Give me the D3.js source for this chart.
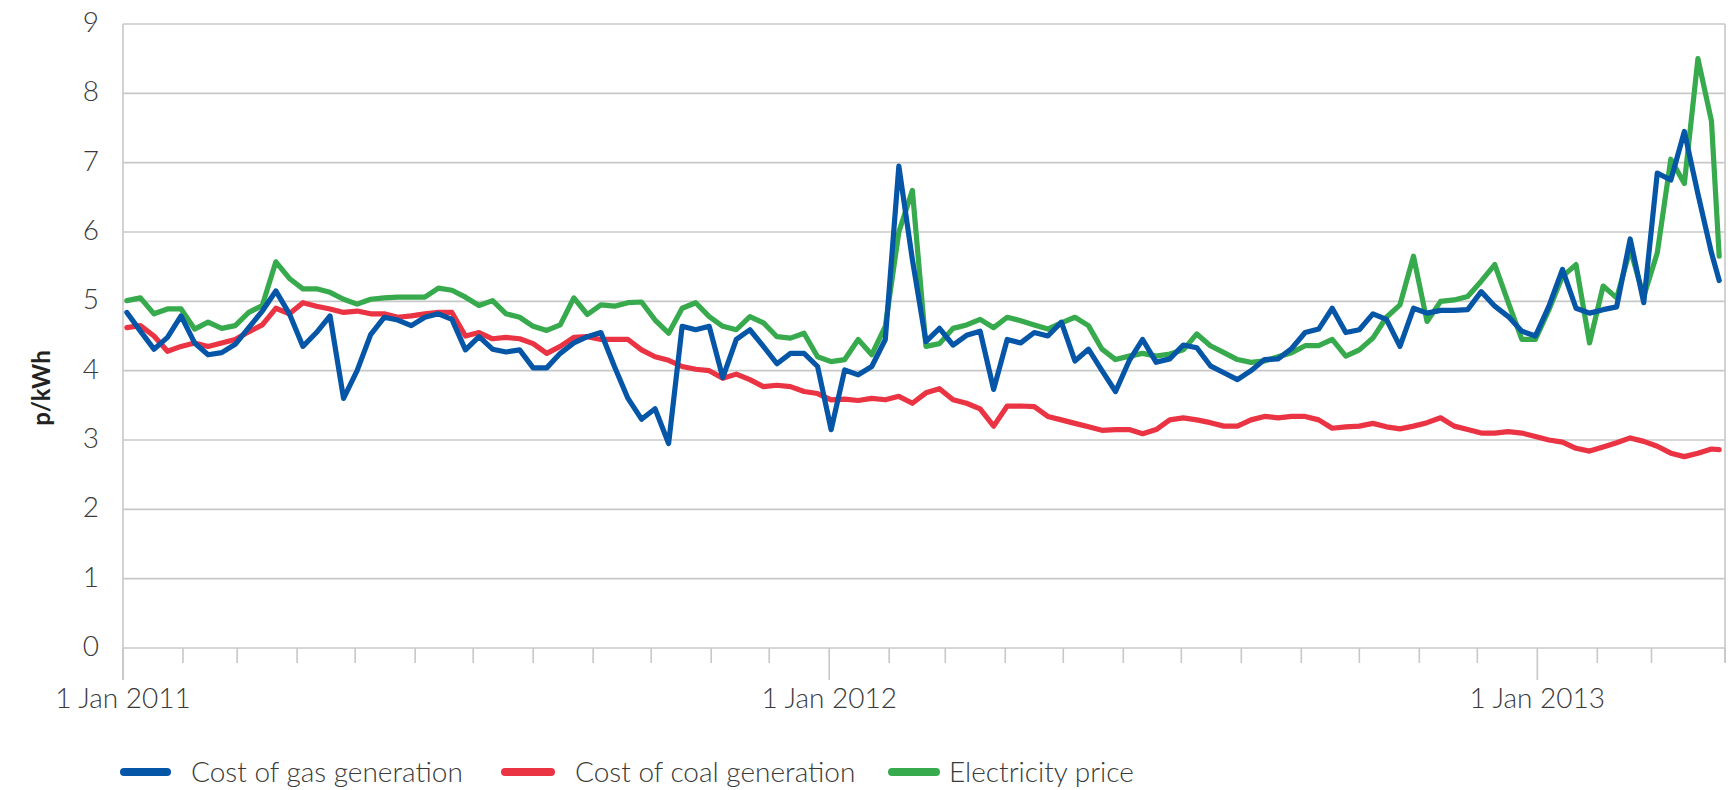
<!DOCTYPE html>
<html>
<head>
<meta charset="utf-8">
<script src="https://cdn.jsdelivr.net/npm/d3@7"></script>
<style>
  body { margin: 0; background: #ffffff; }
  svg { display: block; }
  text { font-family: Lato, "Open Sans", "Noto Sans", sans-serif; }
</style>
</head>
<body>
<svg id="chart" width="1734" height="790"></svg>
<script>
// Weekly observations (Mondays) from the first week of 2011, plus the last available day.
const firstWeek = "2011-01-03";
const lastObservation = "2013-04-05";

// p/kWh
const gasCost = [
  4.84, 4.57, 4.31, 4.48, 4.79, 4.40, 4.23, 4.26, 4.38, 4.62,
  4.86, 5.15, 4.82, 4.35, 4.55, 4.79, 3.60, 4.00, 4.52, 4.77,
  4.73, 4.65, 4.77, 4.82, 4.74, 4.30, 4.49, 4.31, 4.27, 4.30,
  4.04, 4.04, 4.25, 4.40, 4.49, 4.55, 4.06, 3.60, 3.30, 3.45,
  2.95, 4.64, 4.59, 4.64, 3.90, 4.45, 4.59, 4.35, 4.10, 4.25,
  4.25, 4.06, 3.15, 4.01, 3.94, 4.06, 4.45, 6.95, 5.60, 4.42,
  4.61, 4.37, 4.51, 4.57, 3.73, 4.45, 4.40, 4.55, 4.50, 4.70,
  4.14, 4.31, 4.00, 3.70, 4.14, 4.45, 4.12, 4.17, 4.37, 4.33,
  4.07, 3.97, 3.87, 4.00, 4.16, 4.17, 4.32, 4.55, 4.60, 4.90,
  4.55, 4.59, 4.82, 4.74, 4.35, 4.90, 4.83, 4.87, 4.87, 4.88,
  5.14, 4.93, 4.78, 4.57, 4.50, 4.93, 5.46, 4.90, 4.83, 4.88,
  4.92, 5.90, 4.98, 6.85, 6.75, 7.45, 6.55, 5.70, 5.30
];

const coalCost = [
  4.62, 4.65, 4.50, 4.28, 4.35, 4.40, 4.35, 4.40, 4.45, 4.56,
  4.66, 4.90, 4.82, 4.98, 4.93, 4.89, 4.84, 4.86, 4.82, 4.82,
  4.77, 4.79, 4.82, 4.84, 4.84, 4.50, 4.55, 4.46, 4.48, 4.46,
  4.39, 4.25, 4.35, 4.48, 4.49, 4.45, 4.45, 4.45, 4.30, 4.20,
  4.15, 4.06, 4.02, 4.00, 3.89, 3.95, 3.87, 3.77, 3.79, 3.77,
  3.70, 3.67, 3.58, 3.59, 3.57, 3.60, 3.58, 3.63, 3.53, 3.68,
  3.74, 3.58, 3.53, 3.45, 3.20, 3.49, 3.49, 3.48, 3.34, 3.29,
  3.24, 3.19, 3.14, 3.15, 3.15, 3.09, 3.15, 3.29, 3.32, 3.29,
  3.25, 3.20, 3.20, 3.29, 3.34, 3.32, 3.34, 3.34, 3.29, 3.17,
  3.19, 3.20, 3.24, 3.19, 3.16, 3.20, 3.25, 3.32, 3.20, 3.15,
  3.10, 3.10, 3.12, 3.10, 3.05, 3.00, 2.97, 2.88, 2.84, 2.90,
  2.96, 3.03, 2.98, 2.91, 2.81, 2.76, 2.81, 2.87, 2.86
];

const electricityPrice = [
  5.01, 5.05, 4.82, 4.89, 4.89, 4.60, 4.70, 4.61, 4.65, 4.84,
  4.94, 5.57, 5.33, 5.18, 5.18, 5.13, 5.03, 4.96, 5.03, 5.05,
  5.06, 5.06, 5.06, 5.19, 5.16, 5.06, 4.94, 5.01, 4.82, 4.77,
  4.64, 4.58, 4.66, 5.05, 4.81, 4.95, 4.93, 4.98, 4.99, 4.73,
  4.54, 4.90, 4.98, 4.78, 4.64, 4.59, 4.78, 4.69, 4.49, 4.47,
  4.54, 4.20, 4.13, 4.16, 4.45, 4.23, 4.64, 6.00, 6.60, 4.35,
  4.39, 4.61, 4.66, 4.74, 4.62, 4.77, 4.72, 4.66, 4.60, 4.69,
  4.77, 4.65, 4.31, 4.16, 4.21, 4.25, 4.21, 4.24, 4.30, 4.53,
  4.36, 4.26, 4.16, 4.12, 4.14, 4.20, 4.26, 4.36, 4.36, 4.45,
  4.21, 4.30, 4.47, 4.77, 4.95, 5.65, 4.71, 5.00, 5.02, 5.07,
  5.29, 5.53, 4.98, 4.45, 4.45, 4.88, 5.36, 5.53, 4.40, 5.22,
  5.05, 5.75, 5.07, 5.70, 7.05, 6.70, 8.50, 7.60, 5.65
];

const seriesNames = ["Cost of gas generation", "Cost of coal generation", "Electricity price"];
const seriesColors = ["#0656a8", "#ea3343", "#36aa4c"];
const yTickValues = [0, 1, 2, 3, 4, 5, 6, 7, 8, 9];
const yearLabels = ["1 Jan 2011", "1 Jan 2012", "1 Jan 2013"];
const yAxisTitle = "p/kWh";
const axisStart = "2011-01-01";
const axisEnd = "2013-04-08";

const parse = d3.utcParse("%Y-%m-%d");
const dates = d3.utcMonday.range(parse(firstWeek), parse(lastObservation));
dates.push(parse(lastObservation));

const svg = d3.select("#chart");
const plot = { left: 123, right: 1725, top: 24, bottom: 648 };
const gridColor = "#c8c8c8";
const textColor = "#3a3a3a";

const x = d3.scaleUtc()
  .domain([parse(axisStart), parse(axisEnd)])
  .range([plot.left, plot.right]);
const y = d3.scaleLinear()
  .domain([0, 9])
  .range([plot.bottom, plot.top]);

// horizontal gridlines (the top one doubles as the frame)
svg.append("g")
  .selectAll("line")
  .data(yTickValues)
  .join("line")
  .attr("x1", plot.left).attr("x2", plot.right)
  .attr("y1", d => y(d)).attr("y2", d => y(d))
  .attr("stroke", gridColor).attr("stroke-width", 1.6);

// right frame edge
svg.append("line")
  .attr("x1", plot.right).attr("x2", plot.right)
  .attr("y1", plot.top).attr("y2", plot.bottom + 15)
  .attr("stroke", gridColor).attr("stroke-width", 1.6);

// y axis line
svg.append("line")
  .attr("x1", plot.left).attr("x2", plot.left)
  .attr("y1", plot.top).attr("y2", plot.bottom + 32)
  .attr("stroke", gridColor).attr("stroke-width", 1.6);

// y tick labels
svg.append("g")
  .selectAll("text")
  .data(yTickValues)
  .join("text")
  .attr("x", plot.left - 24)
  .attr("y", d => y(d) - 2)
  .attr("dy", "0.36em")
  .attr("text-anchor", "end")
  .attr("font-size", 28)
  .attr("font-weight", 300)
  .attr("fill", textColor)
  .text(d => d);

// monthly ticks, longer at each new year
const monthTicks = d3.utcMonth.range(parse(axisStart), d3.utcMonth.offset(parse(axisEnd), -1));
monthTicks.push(parse(axisEnd));
svg.append("g")
  .selectAll("line")
  .data(monthTicks)
  .join("line")
  .attr("x1", d => x(d)).attr("x2", d => x(d))
  .attr("y1", plot.bottom)
  .attr("y2", d => (d.getUTCMonth() === 0 && d.getUTCDate() === 1) ? plot.bottom + 32 : plot.bottom + 15)
  .attr("stroke", gridColor).attr("stroke-width", 1.6);

const yearStarts = monthTicks.filter(d => d.getUTCMonth() === 0 && d.getUTCDate() === 1);
svg.append("g")
  .selectAll("text")
  .data(yearStarts)
  .join("text")
  .attr("x", d => x(d))
  .attr("y", 708)
  .attr("text-anchor", "middle")
  .attr("font-size", 28)
  .attr("font-weight", 300)
  .attr("fill", textColor)
  .text((d, i) => yearLabels[i]);

// y axis title
svg.append("text")
  .attr("transform", "translate(42,388) rotate(-90)")
  .attr("text-anchor", "middle")
  .attr("dy", "0.35em")
  .attr("font-size", 24)
  .attr("font-weight", 700)
  .attr("fill", "#222")
  .text(yAxisTitle);

// series lines: electricity underneath, gas on top
const line = d3.line()
  .x((d, i) => x(dates[i]))
  .y(d => y(d));

const drawOrder = [
  { values: electricityPrice, color: seriesColors[2] },
  { values: coalCost, color: seriesColors[1] },
  { values: gasCost, color: seriesColors[0] }
];
svg.append("g")
  .selectAll("path")
  .data(drawOrder)
  .join("path")
  .attr("d", d => line(d.values))
  .attr("fill", "none")
  .attr("stroke", d => d.color)
  .attr("stroke-width", 5.2)
  .attr("stroke-linejoin", "round")
  .attr("stroke-linecap", "round");

// legend
const legendY = 772;
const legendItems = [
  { swatch: [124, 167], textX: 191 },
  { swatch: [505, 551], textX: 575 },
  { swatch: [892, 936], textX: 949 }
];
const legend = svg.append("g")
  .selectAll("g")
  .data(legendItems)
  .join("g");
legend.append("line")
  .attr("x1", d => d.swatch[0]).attr("x2", d => d.swatch[1])
  .attr("y1", legendY).attr("y2", legendY)
  .attr("stroke", (d, i) => seriesColors[i])
  .attr("stroke-width", 8)
  .attr("stroke-linecap", "round");
legend.append("text")
  .attr("x", d => d.textX)
  .attr("y", legendY)
  .attr("dy", "0.36em")
  .attr("font-size", 28)
  .attr("font-weight", 300)
  .attr("fill", textColor)
  .text((d, i) => seriesNames[i]);
</script>
</body>
</html>
